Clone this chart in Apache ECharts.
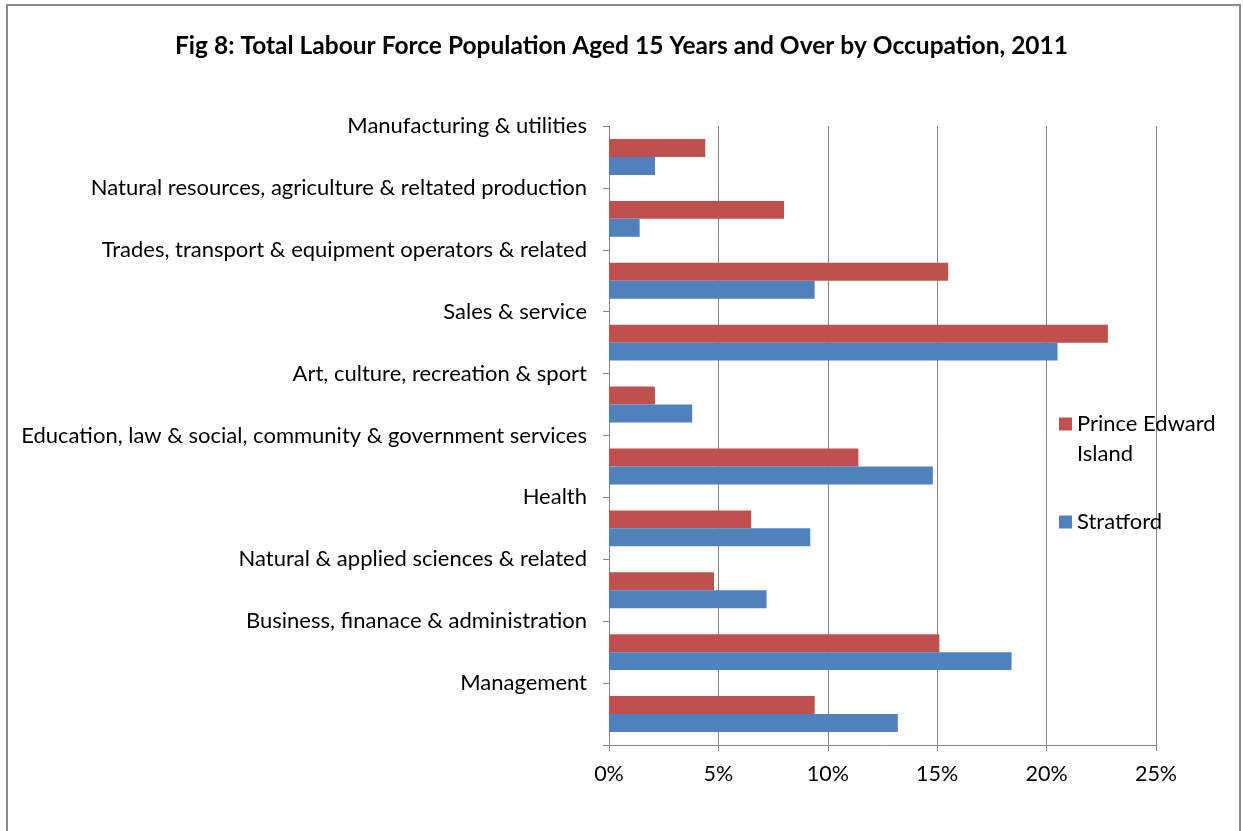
<!DOCTYPE html>
<html>
<head>
<meta charset="utf-8">
<script src="https://cdn.jsdelivr.net/npm/echarts@6/dist/echarts.min.js"></script>
<style>
  html, body { margin: 0; padding: 0; background: #fff; }
  #chart { width: 1243px; height: 831px; }
</style>
</head>
<body>
<div id="chart"></div>
<script>
// Occupation groups, listed top to bottom
const occupations = [
  'Manufacturing & utilities',
  'Natural resources, agriculture & reltated production',
  'Trades, transport & equipment operators & related',
  'Sales & service',
  'Art, culture, recreation & sport',
  'Education, law & social, community & government services',
  'Health',
  'Natural & applied sciences & related',
  'Business, finanace & administration',
  'Management'
];
// Share of labour force (%)
const peiValues = [4.4, 8.0, 15.5, 22.8, 2.1, 11.4, 6.5, 4.8, 15.1, 9.4];
const stratfordValues = [2.1, 1.4, 9.4, 20.5, 3.8, 14.8, 9.2, 7.2, 18.4, 13.2];
const seriesNames = ['Prince Edward Island', 'Stratford'];
const xTicks = [0, 5, 10, 15, 20, 25];

const FONT = 'Lato, "Open Sans", sans-serif';
const AXIS_GREY = '#868686';

const chart = echarts.init(document.getElementById('chart'), null, { renderer: 'canvas' });

chart.setOption({
  animation: false,
  backgroundColor: '#ffffff',
  textStyle: { fontFamily: FONT, color: '#000' },
  title: {
    text: 'Fig 8: Total Labour Force Population Aged 15 Years and Over by Occupation, 2011',
    left: 'center',
    top: 29,
    textStyle: { fontFamily: FONT, fontWeight: 'bold', fontSize: 24.5, color: '#000' }
  },
  graphic: [{
    type: 'rect',
    shape: { x: 7, y: 5, width: 1233, height: 900 },
    style: { fill: 'none', stroke: '#8a8a8a', lineWidth: 2 },
    silent: true
  }],
  legend: [{
    data: [seriesNames[0]],
    orient: 'vertical',
    left: 1059,
    top: 379,
    padding: 0,
    itemWidth: 13,
    itemHeight: 13,
    icon: 'rect',
    // leading blank line keeps the swatch level with the first line of the wrapped name
    formatter: () => '\nPrince Edward\nIsland',
    textStyle: { fontFamily: FONT, fontSize: 22, lineHeight: 30, color: '#000' }
  }, {
    data: [seriesNames[1]],
    orient: 'vertical',
    left: 1059,
    top: 507,
    padding: 0,
    itemWidth: 13,
    itemHeight: 13,
    icon: 'rect',
    textStyle: { fontFamily: FONT, fontSize: 22, lineHeight: 30, color: '#000' }
  }],
  grid: { left: 609, right: 87, top: 126, bottom: 86, containLabel: false },
  xAxis: {
    type: 'value',
    min: xTicks[0],
    max: xTicks[xTicks.length - 1],
    interval: 5,
    axisLine: { show: true, lineStyle: { color: AXIS_GREY, width: 1 } },
    axisTick: { show: true, length: 6, lineStyle: { color: AXIS_GREY } },
    axisLabel: { margin: 18, fontSize: 21.5, fontFamily: FONT, color: '#000', formatter: v => v + '%' },
    splitLine: { show: true, lineStyle: { color: AXIS_GREY, width: 1 } }
  },
  yAxis: {
    type: 'category',
    data: occupations,
    inverse: true,
    axisLine: { show: true, lineStyle: { color: AXIS_GREY, width: 1 } },
    axisTick: { show: true, length: 6, lineStyle: { color: AXIS_GREY } },
    axisLabel: {
      margin: 22,
      fontSize: 22,
      fontFamily: FONT,
      color: '#000',
      interval: 0,
      // labels sit on the band boundary above each pair of bars
      verticalAlign: 'bottom',
      lineHeight: 62
    },
    splitLine: { show: false }
  },
  series: [{
    name: seriesNames[0],
    type: 'bar',
    data: peiValues,
    itemStyle: { color: '#C0504D' },
    barGap: '0%',
    barCategoryGap: '42%'
  }, {
    name: seriesNames[1],
    type: 'bar',
    data: stratfordValues,
    itemStyle: { color: '#4F81BD' },
    barGap: '0%',
    barCategoryGap: '42%'
  }]
});
</script>
</body>
</html>
